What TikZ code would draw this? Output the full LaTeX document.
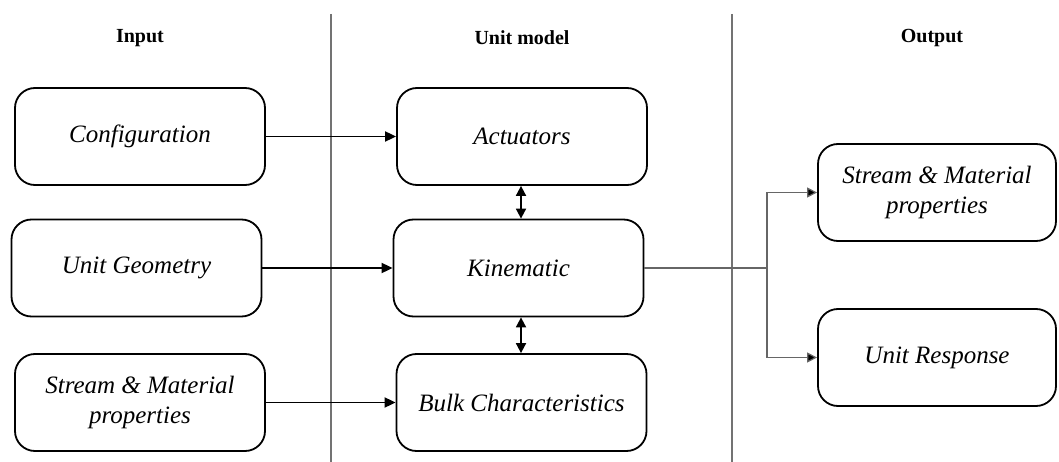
\documentclass[tikz,border=0pt]{standalone}
\usepackage{fontspec}
\setmainfont{Liberation Serif}
\usetikzlibrary{arrows.meta}
\tikzset{
  blockbox/.style={draw=black, line width=1.8pt, rounded corners=20pt, fill=white,
    minimum width=250pt, minimum height=97pt, align=center, inner sep=0pt,
    font=\fontsize{25}{30}\selectfont\itshape},
  outbox/.style={blockbox, minimum width=238pt},
  header/.style={font=\fontsize{20}{24}\selectfont\bfseries, inner sep=0pt},
  divider/.style={draw=black!55, line width=1.4pt},
  flow/.style={draw=black, line width=1.8pt, -{Triangle[length=11pt,width=10pt]}},
  both/.style={draw=black, line width=1.8pt, {Triangle[length=10pt,width=10pt]}-{Triangle[length=10pt,width=10pt]}},
  thin/.style={draw=black!60, line width=1.2pt},
  thinflow/.style={thin, -{Triangle[length=10pt,width=10pt,fill=black]}}
}
\begin{document}
\begin{tikzpicture}[x=1pt,y=-1pt]
\useasboundingbox (0,0) rectangle (1059,462);
% dividers
\coordinate (d1t) at (331,14); \coordinate (d1b) at (331,462);
\coordinate (d2t) at (732,14); \coordinate (d2b) at (732,462);
\draw[divider] (d1t) -- (d1b);
\draw[divider] (d2t) -- (d2b);
% headers
\node[header] (hin) at (140,38) {Input};
\node[header] (hum) at (522,38) {Unit model};
\node[header] (hout) at (932,38) {Output};
% input boxes
\node[blockbox] (conf) at (140,136.5) {Configuration};
\node[blockbox] (geom) at (136.5,268) {Unit Geometry};
\node[blockbox] (smin) at (140,402.5) {Stream \& Material\\properties};
% unit model boxes
\node[blockbox] (act) at (522,136.5) {Actuators};
\node[blockbox] (kin) at (518.5,268) {Kinematic};
\node[blockbox] (bulk) at (521.5,402.5) {Bulk Characteristics};
% output boxes
\node[outbox] (smout) at (937,192.5) {Stream \& Material\\properties};
\node[outbox] (resp) at (937,357.5) {Unit Response};
% connectors
\draw[flow] (conf) -- (act);
\draw[flow] (geom) -- (kin);
\draw[flow] (smin) -- (bulk);
\draw[both] (act.south -| 521,0) -- (kin.north -| 521,0);
\draw[both] (kin.south -| 521,0) -- (bulk.north -| 521,0);
\coordinate (branch) at (767,268);
\draw[thin] (kin.east) -- (branch);
\draw[thinflow] (branch) |- (smout.west);
\draw[thinflow] (branch) |- (resp.west);
\end{tikzpicture}
\end{document}
